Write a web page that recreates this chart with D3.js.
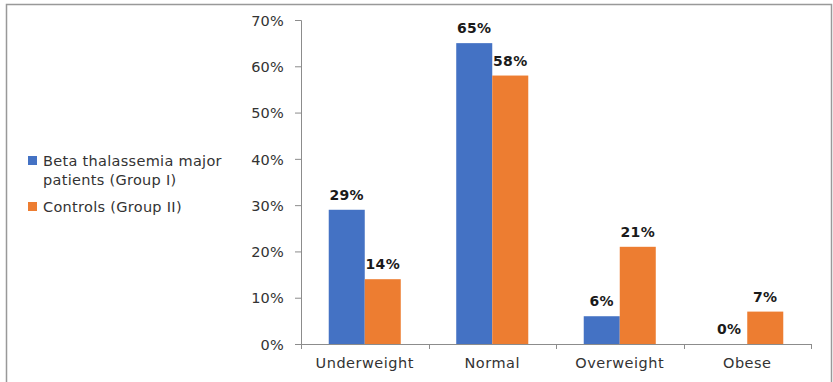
<!DOCTYPE html>
<html>
<head>
<meta charset="utf-8">
<script src="https://cdn.jsdelivr.net/npm/d3@7"></script>
<style>
  html, body { margin: 0; padding: 0; background: #fff; }
  svg { display: block; }
  text { font-family: "DejaVu Sans", sans-serif; }
</style>
</head>
<body>
<svg id="chart" width="833" height="382"></svg>
<script>
// BMI categories and percentage of each group
const categories = ["Underweight", "Normal", "Overweight", "Obese"];
const seriesNames = ["Beta thalassemia major patients (Group I)", "Controls (Group II)"];
const groupI = [29, 65, 6, 0];
const groupII = [14, 58, 21, 7];
const yTicks = [0, 10, 20, 30, 40, 50, 60, 70];
const colors = ["#4472C4", "#ED7D31"];

const svg = d3.select("#chart");

// outer frame
svg.append("rect")
  .attr("x", 6.5).attr("y", 4.5)
  .attr("width", 825).attr("height", 400)
  .attr("fill", "none")
  .attr("stroke", "#999")
  .attr("stroke-width", 1.5);

const plot = { left: 301, right: 811, top: 20, bottom: 344 };

const y = d3.scaleLinear().domain([0, 70]).range([plot.bottom, plot.top]);
const x = d3.scaleBand().domain(categories).range([plot.left, plot.right]).padding(0);
const xs = d3.scaleBand().domain([0, 1]).range([0, x.bandwidth()])
  .paddingInner(0).paddingOuter(0.77);

const axisColor = "#8c8c8c";
const labelSize = 14.5;

// y axis
const yAxis = svg.append("g")
  .attr("transform", `translate(${plot.left},0)`)
  .call(d3.axisLeft(y).tickValues(yTicks).tickSize(6).tickPadding(11)
    .tickFormat(d => d + "%"));
yAxis.select(".domain").attr("stroke", axisColor);
yAxis.selectAll(".tick line").attr("stroke", axisColor);
yAxis.selectAll(".tick text")
  .attr("font-family", "DejaVu Sans")
  .attr("font-size", labelSize)
  .attr("fill", "#333")
  .attr("letter-spacing", 0.2)
  .attr("dy", "0.36em");

// x axis line with ticks at category boundaries
const xAxis = svg.append("g");
xAxis.append("line")
  .attr("x1", plot.left).attr("x2", plot.right)
  .attr("y1", plot.bottom + 0.5).attr("y2", plot.bottom + 0.5)
  .attr("stroke", axisColor);
const bounds = categories.map(c => x(c)).concat([x(categories[categories.length - 1]) + x.bandwidth()]);
xAxis.selectAll("line.tk").data(bounds).join("line")
  .attr("class", "tk")
  .attr("x1", d => Math.round(d) + 0.5).attr("x2", d => Math.round(d) + 0.5)
  .attr("y1", plot.bottom).attr("y2", plot.bottom + 5)
  .attr("stroke", axisColor);
xAxis.selectAll("text").data(categories).join("text")
  .attr("x", d => x(d) + x.bandwidth() / 2)
  .attr("y", 368)
  .attr("text-anchor", "middle")
  .attr("font-size", labelSize)
  .attr("letter-spacing", 0.5)
  .attr("fill", "#333")
  .text(d => d);

// bars
const series = [groupI, groupII];
series.forEach((vals, si) => {
  const g = svg.append("g");
  g.selectAll("rect").data(vals).join("rect")
    .attr("x", (d, i) => x(categories[i]) + xs(si))
    .attr("y", d => y(d))
    .attr("width", xs.bandwidth())
    .attr("height", d => y(0) - y(d))
    .attr("fill", colors[si]);
  g.selectAll("text").data(vals).join("text")
    .attr("x", (d, i) => x(categories[i]) + xs(si) + xs.bandwidth() / 2)
    .attr("y", d => y(d) - 10)
    .attr("text-anchor", "middle")
    .attr("font-size", 14)
    .attr("font-weight", "bold")
    .attr("letter-spacing", 0.3)
    .attr("fill", "#1a1a1a")
    .text(d => d + "%");
});

// legend
const legend = svg.append("g");
const legendItems = [
  { lines: ["Beta thalassemia major", "patients (Group I)"], y: 166 },
  { lines: ["Controls (Group II)"], y: 212 }
];
legendItems.forEach((item, i) => {
  legend.append("rect")
    .attr("x", 28).attr("y", item.y - 10)
    .attr("width", 9).attr("height", 9)
    .attr("fill", colors[i]);
  const t = legend.append("text")
    .attr("x", 43).attr("y", item.y)
    .attr("font-size", labelSize)
    .attr("letter-spacing", 0.3)
    .attr("fill", "#333");
  item.lines.forEach((ln, j) => {
    t.append("tspan").attr("x", 43).attr("dy", j === 0 ? 0 : 19).text(ln);
  });
});
</script>
</body>
</html>
